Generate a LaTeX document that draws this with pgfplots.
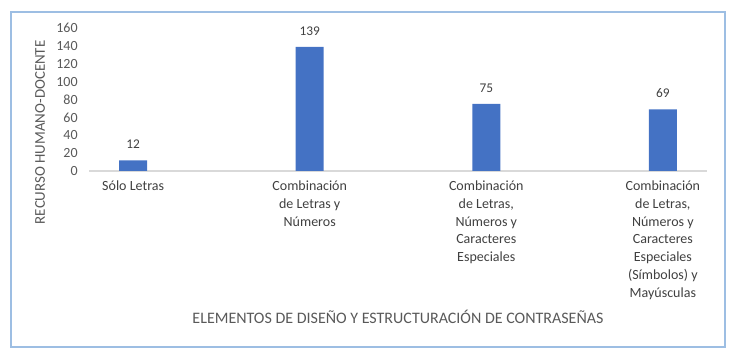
\documentclass[border=0pt]{standalone}
\usepackage{pgfplots}
\pgfplotsset{compat=1.18}
\usepackage{fontspec}
\setmainfont{Carlito}
\definecolor{barblue}{HTML}{4472C4}
\definecolor{txtgray}{HTML}{595959}
\definecolor{lblgray}{HTML}{404040}
\definecolor{framecol}{HTML}{9DBEE3}
\definecolor{axgray}{HTML}{D9D9D9}
\begin{document}
\begin{tikzpicture}
\useasboundingbox (0,0) rectangle (552pt,269.25pt);
\draw[framecol, line width=0.8pt] (8.25pt,9pt) rectangle (543.75pt,260.25pt);
\begin{axis}[
  at={(66.75pt,141pt)}, anchor=south west,
  scale only axis, width=463.5pt, height=107.25pt,
  xmin=-0.25, xmax=3.25, ymin=0, ymax=160,
  axis x line=bottom, axis y line=left,
  x axis line style={draw=axgray, line width=0.8pt, -},
  y axis line style={draw=none},
  major tick length=0pt,
  xtick=data,
  xticklabels={{Sólo Letras},{Combinación\\de Letras y\\Números},{Combinación\\de Letras,\\Números y\\Caracteres\\Especiales},{Combinación\\de Letras,\\Números y\\Caracteres\\Especiales\\(Símbolos) y\\Mayúsculas}},
  xticklabel style={align=center, text=lblgray, font=\fontsize{10.5}{13.3}\selectfont, anchor=north, yshift=-4pt},
  ytick={0,20,40,60,80,100,120,140,160},
  yticklabel style={text=txtgray, font=\fontsize{10.5}{12}\selectfont, anchor=east, xshift=-5pt},
  /pgf/number format/assume math mode=true,
  ybar, bar width=21pt,
  nodes near coords,
  nodes near coords style={text=lblgray, font=\fontsize{10}{12}\selectfont, yshift=5pt},
  clip=false,
]
\addplot[fill=barblue, draw=none] coordinates {(0,12) (1,139) (2,75) (3,69)};
\end{axis}
\node[text=txtgray, font=\fontsize{12}{14}\selectfont] at (298.5pt,31.5pt) {ELEMENTOS DE DISEÑO Y ESTRUCTURACIÓN DE CONTRASEÑAS};
\node[text=txtgray, font=\fontsize{11.2}{13}\selectfont, rotate=90] at (30pt,170pt) {RECURSO HUMANO-DOCENTE};
\end{tikzpicture}
\end{document}
